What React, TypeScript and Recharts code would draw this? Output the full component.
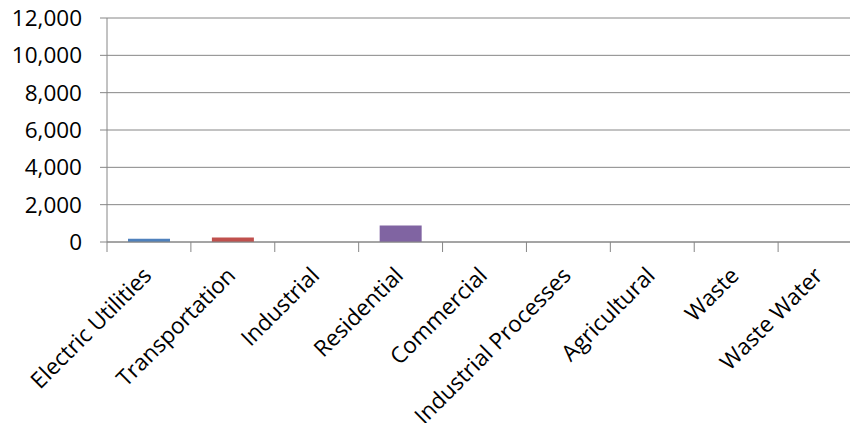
import { BarChart, Bar, Cell, XAxis, YAxis, CartesianGrid } from "recharts"

const categories = [
  "Electric Utilities",
  "Transportation",
  "Industrial",
  "Residential",
  "Commercial",
  "Industrial Processes",
  "Agricultural",
  "Waste",
  "Waste Water"
]
const values = [180, 240, 0, 880, 0, 0, 0, 0, 0]
const yTicks = [0, 2000, 4000, 6000, 8000, 10000, 12000]
const colors = ["#4F81BD", "#C0504D", "#9BBB59", "#8064A2", "#4BACC6", "#F79646", "#2C4D75", "#772C2A", "#5F7530"]

const W = 862
const H = 431
const LEFT = 107
const BAND = (W - LEFT) / categories.length
const FONT = "'Open Sans', 'Liberation Sans', sans-serif"
const FS = 22.5
const AXIS = "#868686"

const data = categories.map((name, i) => ({ name, value: values[i] }))

function XTick(props: any) {
  const { x, y, payload } = props
  const left = x - BAND / 2
  const tx = x + 4
  const ty = y + 27
  return (
    <g>
      <line x1={left} x2={left} y1={y - 8} y2={y + 2} stroke={AXIS} strokeWidth={1} />
      <text
        x={tx}
        y={ty}
        textAnchor="end"
        fontSize={FS}
        fontFamily={FONT}
        fill="#000"
        transform={`rotate(-45 ${tx} ${ty})`}
      >
        {payload.value}
      </text>
    </g>
  )
}

export default function App() {
  return (
    <div style={{ width: 858, height: H, margin: -8, overflow: "hidden" }}>
      <BarChart width={W} height={H} data={data} margin={{ top: 18, right: 0, bottom: 0, left: 0 }}>
        <CartesianGrid vertical={false} stroke={AXIS} />
        <XAxis
          dataKey="name"
          interval={0}
          height={189}
          tickLine={false}
          axisLine={{ stroke: AXIS }}
          tick={XTick}
        />
        <YAxis
          width={LEFT}
          domain={[0, 12000]}
          ticks={yTicks}
          tickSize={7}
          tickMargin={18}
          axisLine={{ stroke: AXIS }}
          tickLine={{ stroke: AXIS }}
          tickFormatter={(v: number) => v.toLocaleString("en-US")}
          tick={{ fontSize: FS, fontFamily: FONT, fill: "#000" }}
        />
        <Bar dataKey="value" barSize={42} isAnimationActive={false}>
          {data.map((d, i) => (
            <Cell key={d.name} fill={colors[i]} />
          ))}
        </Bar>
      </BarChart>
    </div>
  )
}
